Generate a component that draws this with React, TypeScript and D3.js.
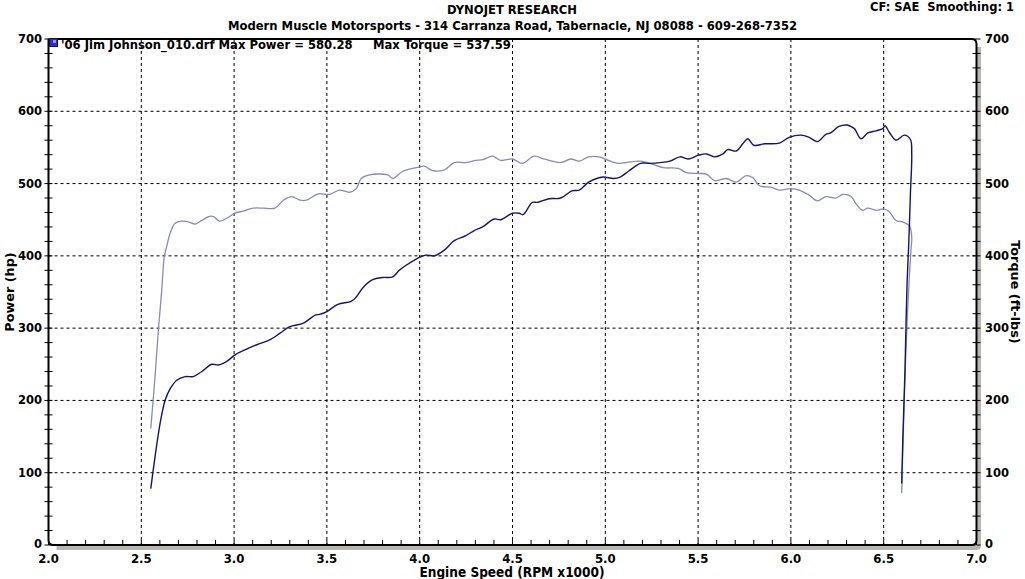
import React from "react";
import * as d3 from "d3";

const powerRpm = [2.551,2.574,2.601,2.628,2.655,2.691,2.736,2.78,2.826,2.88,2.915,2.96,3.005,3.059,3.122,3.194,3.248,3.3,3.374,3.437,3.46,3.5,3.559,3.631,3.658,3.694,3.747,3.8,3.855,3.89,3.927,3.998,4.034,4.079,4.133,4.186,4.249,4.294,4.339,4.401,4.437,4.5,4.536,4.557,4.607,4.634,4.697,4.76,4.82,4.86,4.91,4.966,4.991,5.045,5.08,5.125,5.19,5.24,5.295,5.348,5.402,5.446,5.5,5.545,5.59,5.634,5.66,5.705,5.741,5.768,5.8,5.857,5.938,5.991,6.054,6.098,6.143,6.188,6.214,6.259,6.304,6.315,6.342,6.378,6.414,6.459,6.495,6.507,6.53,6.566,6.611,6.644,6.651,6.644,6.635,6.626,6.62,6.615,6.608,6.602,6.597];
const powerHp = [78,122,168,200,216,228,233,233,240,250,249,254,263,270,277,284,293,302,307,318,319,323,333,337,343,356,367,370,371,380,387,398,401,400,408,421,428,435,440,451,450,459,459,457,474,474,479,480,490,491,502,508,509,507,509,517,528,528,529,531,537,534,539,541,537,541,547,545,555,562,553,555,556,564,567,564,558,568,570,579,581,580,576,562,570,573,576,580,571,560,567,561,541,486,417,362,302,246,187,136,85];

const torqueRpm = [2.551,2.574,2.592,2.61,2.624,2.637,2.655,2.682,2.718,2.754,2.79,2.826,2.871,2.892,2.921,2.96,3.005,3.05,3.104,3.158,3.22,3.266,3.31,3.356,3.39,3.437,3.46,3.514,3.568,3.622,3.658,3.685,3.729,3.828,3.855,3.909,3.998,4.025,4.07,4.133,4.186,4.249,4.303,4.339,4.392,4.437,4.5,4.554,4.616,4.67,4.76,4.814,4.86,4.91,4.966,5.027,5.071,5.134,5.188,5.241,5.3125,5.393,5.4375,5.5,5.545,5.589,5.652,5.705,5.759,5.795,5.83,5.893,5.938,6.0,6.045,6.098,6.143,6.188,6.241,6.28,6.324,6.351,6.387,6.414,6.459,6.5,6.53,6.566,6.602,6.638,6.651,6.647,6.638,6.629,6.62,6.612,6.605,6.597];
const torqueFtlb = [161,233,297,352,399,413,431,445,448,447,444,449,455,454,448,452,459,462,466,466,466,477,482,477,477,484,486,485,491,488,493,507,512,512,507,517,523,524,518,519,529,529,532,533,538,532,534,528,538,534,529,534,531,537,537,531,528,530,531,528,522,521,515,514,513,504,507,502,511,508,497,495,491,493,491,484,476,482,480,485,482,472,463,466,463,465,461,449,447,442,426,408,371,325,270,210,150,72];

const xTicks = [2.0,2.5,3.0,3.5,4.0,4.5,5.0,5.5,6.0,6.5,7.0];
const yTicks = [0,100,200,300,400,500,600,700];

const titleLine1 = "DYNOJET RESEARCH";
const titleLine2 = "Modern Muscle Motorsports - 314 Carranza Road, Tabernacle, NJ 08088 - 609-268-7352";
const cornerText = "CF: SAE\u00a0\u00a0Smoothing: 1";
const legendRun = "'06 Jim Johnson_010.drf Max Power = 580.28";
const legendTorque = "Max Torque = 537.59";

const W = 1025, H = 579;
const L = 48.5, R = 976.5, T = 39, B = 545;

export default function App() {
  const x = d3.scaleLinear().domain([2, 7]).range([L, R]);
  const y = d3.scaleLinear().domain([0, 700]).range([B, T]);
  const pPts: [number, number][] = powerRpm.map((r, i) => [r, powerHp[i]]);
  const tPts: [number, number][] = torqueRpm.map((r, i) => [r, torqueFtlb[i]]);
  const line = d3.line<[number, number]>().x(d => x(d[0])).y(d => y(d[1])).curve(d3.curveCatmullRom.alpha(0.5));
  const minorX = d3.range(20, 71).map(v => v / 10);
  const minorY = d3.range(0, 701, 20);
  const font = "'DejaVu Sans', Verdana, sans-serif";
  const cfont = "'DejaVu Sans Condensed', 'DejaVu Sans', sans-serif";
  const rad = 5;
  const framePath = `M${L},${T} H${R - rad} Q${R},${T} ${R},${T + rad} V${B - rad} Q${R},${B} ${R - rad},${B} H${L + rad} Q${L},${B} ${L},${B - rad} V${T}`;
  return (
    <svg width={W} height={H} style={{ position: "absolute", left: 0, top: 0, background: "#fff" }}>
      <rect x={0} y={0} width={W} height={H} fill="#fff" />
      <text x={512} y={14} textAnchor="middle" fontFamily={font} fontWeight="bold" fontSize={11.6}>{titleLine1}</text>
      <text x={512.5} y={30} textAnchor="middle" fontFamily={font} fontWeight="bold" fontSize={11.6}>{titleLine2}</text>
      <text x={1014} y={11} textAnchor="end" fontFamily={font} fontWeight="bold" fontSize={11.5}>{cornerText}</text>

      {/* shadow */}
      <path d={`M${R + 2.5},${T + 8} V${B + 1} Q${R + 2.5},${B + 3} ${R},${B + 3} H${L + 8}`} fill="none" stroke="#b8b8b0" strokeWidth={4} />

      {/* grid */}
      {xTicks.slice(1, -1).map(v => (
        <line key={"gx" + v} x1={x(v)} x2={x(v)} y1={T} y2={B} stroke="#000" strokeWidth={1} strokeDasharray="3,3" />
      ))}
      {yTicks.slice(1, -1).map(v => (
        <line key={"gy" + v} x1={L} x2={R} y1={y(v)} y2={y(v)} stroke="#000" strokeWidth={1} strokeDasharray="3,3" />
      ))}

      {/* curves */}
      <path d={line(tPts) || ""} fill="none" stroke="#8a8ab8" strokeWidth={1.3} />
      <path d={line(pPts) || ""} fill="none" stroke="#14146e" strokeWidth={1.4} />

      {/* frame */}
      <path d={framePath} fill="none" stroke="#000" strokeWidth={2} />

      {/* ticks */}
      {minorX.map(v => (
        <line key={"tx" + v} x1={x(v)} x2={x(v)} y1={B} y2={B - 5} stroke="#000" strokeWidth={1} />
      ))}
      {minorY.map(v => (
        <g key={"ty" + v}>
          <line x1={L - 4} x2={L + 4} y1={y(v)} y2={y(v)} stroke="#000" strokeWidth={1} />
          <line x1={R - 4} x2={R + 4} y1={y(v)} y2={y(v)} stroke="#000" strokeWidth={1} />
        </g>
      ))}

      {/* tick labels */}
      {yTicks.map(v => (
        <g key={"yl" + v}>
          <text x={42} y={y(v) + (v === 0 ? 2.5 : 4)} textAnchor="end" fontFamily={font} fontWeight="bold" fontSize={11.5}>{v}</text>
          <text x={985} y={y(v) + (v === 0 ? 2.5 : 4)} textAnchor="start" fontFamily={font} fontWeight="bold" fontSize={11.5}>{v}</text>
        </g>
      ))}
      {xTicks.map(v => (
        <text key={"xl" + v} x={x(v)} y={563} textAnchor="middle" fontFamily={cfont} fontWeight="bold" fontSize={13}>{v.toFixed(1)}</text>
      ))}
      <text x={512} y={577} textAnchor="middle" fontFamily={cfont} fontWeight="bold" fontSize={13.5}>Engine Speed (RPM x1000)</text>
      <text transform="translate(14,292) rotate(-90)" textAnchor="middle" fontFamily={font} fontWeight="bold" fontSize={12.8}>Power (hp)</text>
      <text transform="translate(1011,292) rotate(90)" textAnchor="middle" fontFamily={font} fontWeight="bold" fontSize={12.8}>Torque (ft-lbs)</text>

      {/* legend */}
      <rect x={49.5} y={38.5} width={8} height={8} fill="#2a2ad0" stroke="#101060" strokeWidth={1} />
      <rect x={53} y={40} width={3} height={3} fill="#9a9af0" />
      <text x={61} y={49} fontFamily={font} fontWeight="bold" fontSize={11.6}>{legendRun}</text>
      <text x={373} y={49} fontFamily={font} fontWeight="bold" fontSize={11.6}>{legendTorque}</text>
    </svg>
  );
}
